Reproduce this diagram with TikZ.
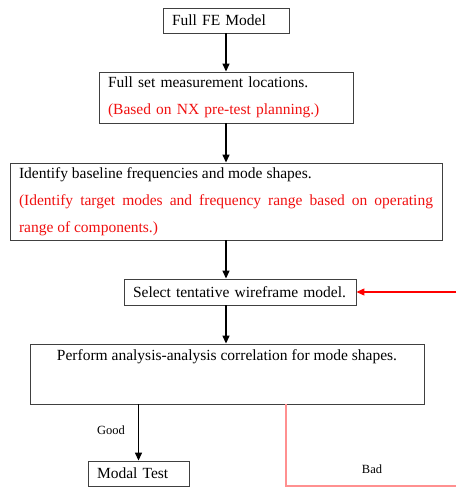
\documentclass[tikz,border=0pt]{standalone}
\usepackage{fontspec}
\setmainfont{Liberation Serif}
\usetikzlibrary{arrows.meta}
\definecolor{txtred}{HTML}{F01010}
\definecolor{badred}{HTML}{FF9090}
\begin{document}
\begin{tikzpicture}[x=1pt,y=-1pt,
  box/.style={draw=black!75,line width=0.9pt,rectangle,inner xsep=9pt,inner ysep=0pt,
    align=left,font=\fontsize{15.5}{27}\selectfont},
  flow/.style={line width=1.4pt,-{Triangle[length=8pt,width=7pt]}},
  redflow/.style={draw=red,line width=1.1pt,-{Triangle[length=8pt,width=7pt]}},
  tag/.style={inner sep=0pt,font=\fontsize{12.5}{15}\selectfont}]
\useasboundingbox (0,0) rectangle (456,487);
\node[box,text width=108pt,minimum height=25pt] (b1) at (226,20.5) {Full FE Model};
\node[box,text width=236pt,minimum height=51pt] (b2) at (226,97.5)
  {Full set measurement locations.\\ \textcolor{txtred}{(Based on NX pre-test planning.)}};
\node[box,text width=414pt,minimum height=77pt,align=justify] (b3) at (226,201.5)
  {Identify baseline frequencies and mode shapes.\par
   \color{txtred}(Identify target modes and frequency range based on operating\linebreak range of components.)};
\node[box,text width=214pt,minimum height=26pt] (b4) at (240,292) {Select tentative wireframe model.};
\node[box,inner xsep=0pt,minimum width=394pt,minimum height=60pt] (b5) at (227,374)
  {\parbox[c][60pt][t]{376pt}{\centering\rule{0pt}{16pt}Perform analysis-analysis correlation for mode shapes.}};
\node[box,text width=83pt,minimum height=25pt] (b6) at (138.5,473.5) {Modal Test};
\coordinate (redin) at (456,292);
\coordinate (badcorner) at (286,486);
\coordinate (badend) at (456,486);
\draw[flow] (b1.south) -- (b2.north);
\draw[flow] (b2.south) -- (b3.north);
\draw[flow] (b3.south) -- (b4.north -| b3.south);
\draw[flow] (b4.south -| b1.south) -- (b5.north -| b1.south);
\draw[flow] (b5.south -| b6.north) -- (b6.north);
\draw[redflow] (redin) -- (b4.east);
\draw[draw=badred,line width=1.1pt] (b5.south -| badcorner) -- (badcorner) -- (badend);
\node[tag] (good) at (111,430) {Good};
\node[tag] (bad) at (372,469) {Bad};
\end{tikzpicture}
\end{document}
